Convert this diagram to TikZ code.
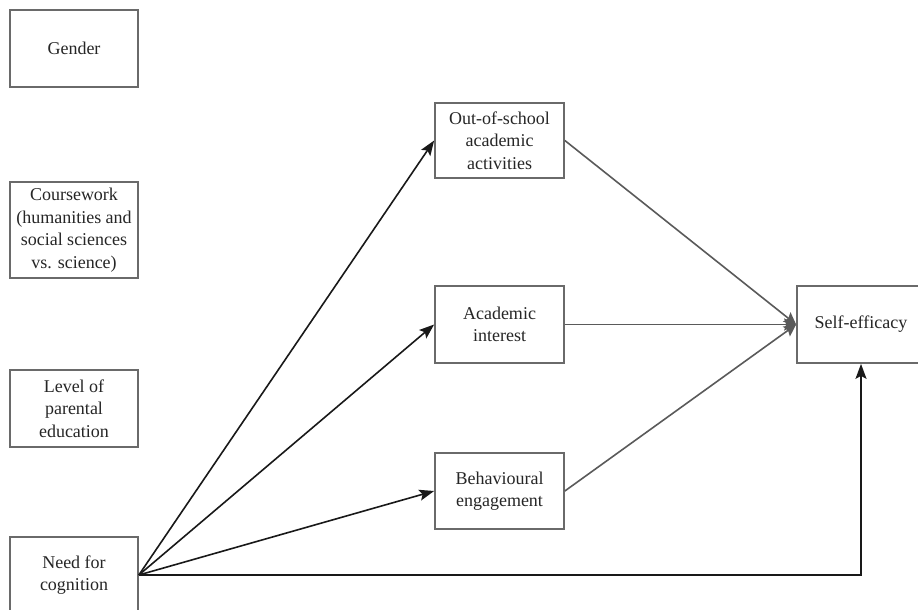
\documentclass[tikz,border=0pt]{standalone}
\usepackage{fontspec}
\setmainfont{Liberation Serif}
\usetikzlibrary{arrows.meta}
\definecolor{boxgray}{HTML}{6A6A6A}
\definecolor{linegray}{HTML}{5A5A5A}
\tikzset{
  box/.style={draw=boxgray, line width=1.7pt, rectangle, align=center, inner sep=0pt,
    minimum width=128pt, minimum height=77pt, font=\fontsize{18}{22.5}\selectfont, text=black!85},
  blackarrow/.style={draw=black!90, line width=1.6pt, -{Stealth[length=15pt,width=11pt,inset=3pt]}},
  grayarrow/.style={draw=linegray, line width=1.6pt, -{Stealth[length=12pt,width=12pt,inset=2pt]}}
}
\begin{document}
\begin{tikzpicture}[x=1pt,y=-1pt]
\useasboundingbox (0,0) rectangle (918,610);
\fill[white] (0,0) rectangle (918,610);
\node[box] (gender) at (74,48.5) {Gender};
\node[box, minimum height=96pt] (course) at (74,230) {Coursework\\(humanities and\\social sciences\\vs. science)};
\node[box] (level) at (74,408.5) {Level of\\parental\\education};
\node[box, minimum height=76pt] (need) at (74,575) {Need for\\cognition};
\node[box, minimum width=129pt, minimum height=75pt] (out) at (499.5,140.5) {Out-of-school\\academic\\activities};
\node[box, minimum width=129pt] (acad) at (499.5,324.5) {Academic\\interest};
\node[box, minimum width=129pt, minimum height=76pt] (behav) at (499.5,491) {Behavioural\\engagement};
\node[box] (self) at (861,324.5) {Self-efficacy};
\draw[blackarrow] (need.east) -- (out.west);
\draw[blackarrow] (need.east) -- (acad.west);
\draw[blackarrow] (need.east) -- (behav.west);
\draw[blackarrow] (need.east) -| (self.south);
\draw[grayarrow] (out.east) -- (self.west);
\draw[grayarrow] (acad.east) -- (self.west);
\draw[grayarrow] (behav.east) -- (self.west);
\end{tikzpicture}
\end{document}
